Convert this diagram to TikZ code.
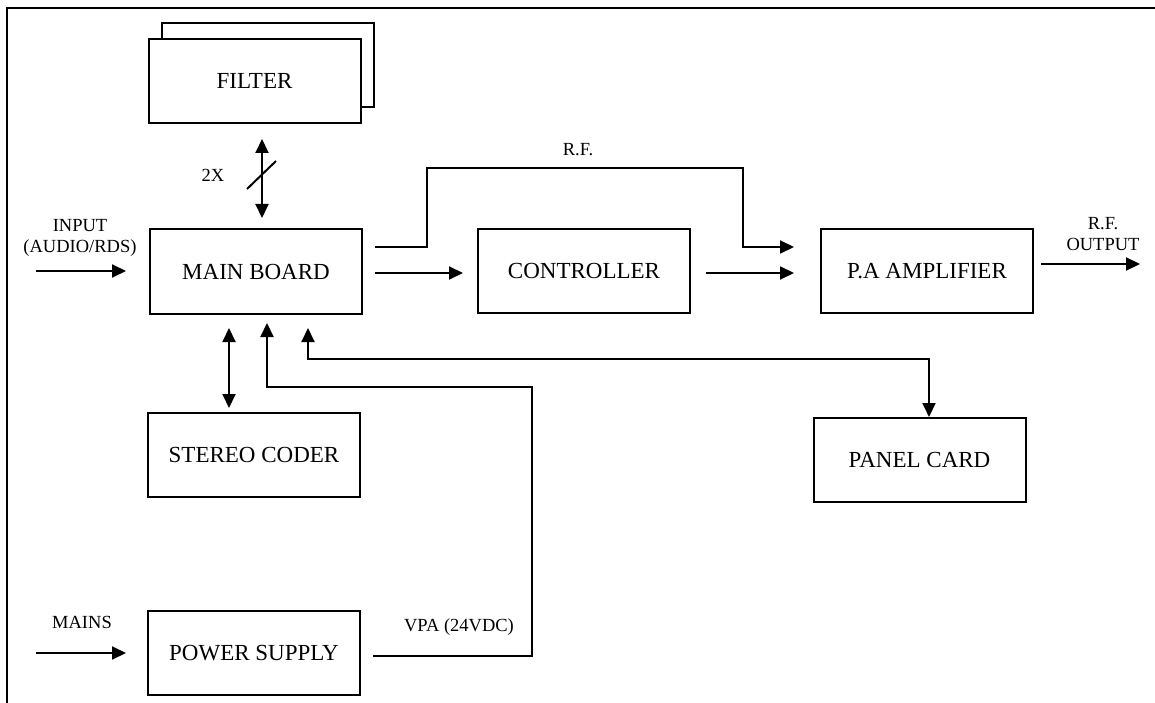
\documentclass[tikz,border=0pt]{standalone}
\usepackage{fontspec}
\setmainfont{Liberation Serif}
\usetikzlibrary{arrows.meta}
\begin{document}
\begin{tikzpicture}[x=1pt,y=-1pt,
  box/.style={draw,line width=2pt,minimum width=212pt,minimum height=84pt,inner sep=0pt,
    font=\fontsize{23}{27}\selectfont},
  lbl/.style={font=\fontsize{18.5}{21}\selectfont,inner sep=0pt,align=center},
  wire/.style={line width=2pt},
  arr/.style={wire,-{Triangle[length=14pt,width=13pt]}},
  darr/.style={wire,{Triangle[length=14pt,width=13pt]}-{Triangle[length=14pt,width=13pt]}}]
\useasboundingbox (0,0) rectangle (1155,703);
% frame
\draw[line width=2.8pt] (7,703) -- (7,8) -- (1155,8);
% boxes
\node[box,fill=white] (filterback) at (267.5,65) {};
\node[box,fill=white] (filter) at (254.5,81) {FILTER};
\node[box] (main) at (256,271.5) {MAIN BOARD};
\node[box] (ctrl) at (584,271) {CONTROLLER};
\node[box] (pa) at (927,271) {P.A AMPLIFIER};
\node[box] (stereo) at (254,455) {STEREO CODER};
\node[box] (panel) at (919.5,460) {PANEL CARD};
\node[box] (ps) at (254,653) {POWER SUPPLY};
% labels
\node[lbl] (l2x) at (213,175) {2X};
\node[lbl] (linput) at (80,238) {INPUT\\(AUDIO/RDS)};
\node[lbl] (lrf) at (578,150) {R.F.};
\node[lbl] (lout) at (1103,234) {R.F.\\OUTPUT};
\node[lbl] (lmains) at (82,622) {MAINS};
\node[lbl] (lvpa) at (459,627) {VPA (24VDC)};
% free ends
\coordinate (inS) at (36,271);
\coordinate (mainsS) at (36,653);
\coordinate (outE) at (1140,264);
\coordinate (s1) at (247,189);
\coordinate (s2) at (276,161);
% connectors
\draw[darr] ([shift={(7.5,15)}]filter.south) -- ([shift={(6,-10.5)}]main.north);
\draw[wire] (s1) -- (s2);
\draw[arr] (inS) -- ([shift={(-23,-0.5)}]main.west);
\draw[arr] ([shift={(12,1.5)}]main.east) -- ([shift={(-14,2)}]ctrl.west);
\draw[arr] ([shift={(12,-24.5)}]main.east) -| (427,168) -| (743,247) -- ([shift={(-26,-24)}]pa.west);
\draw[arr] ([shift={(15,2)}]ctrl.east) -- ([shift={(-26,2)}]pa.west);
\draw[arr] ([shift={(7,-7)}]pa.east) -- (outE);
\draw[darr] ([shift={(-27,13.5)}]main.south) -- ([shift={(-25,-4)}]stereo.north);
\draw[arr] ([shift={(12,3)}]ps.east) -| (532,387) -| ([shift={(11,8.5)}]main.south);
\draw[darr] ([shift={(52,13.5)}]main.south) |- ([shift={(9.5,-58)}]panel.north) -- ([shift={(9.5,0)}]panel.north);
\draw[arr] (mainsS) -- ([shift={(-21,0)}]ps.west);
\end{tikzpicture}
\end{document}
